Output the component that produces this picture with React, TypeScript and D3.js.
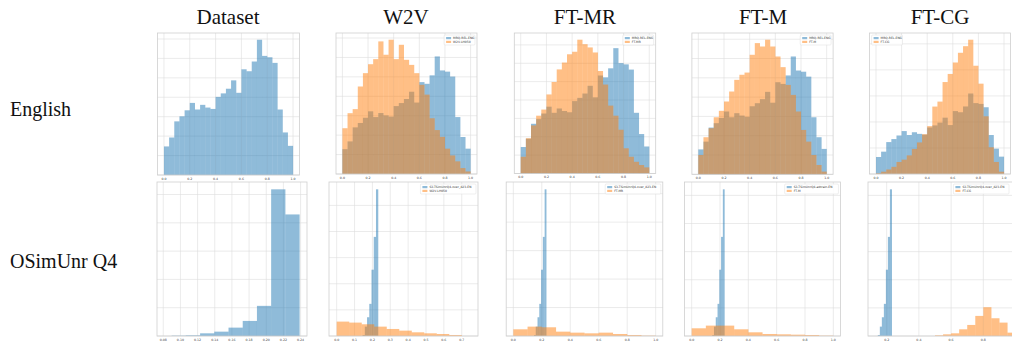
import React from "react";
import * as d3 from "d3";

const BLUE = "#1f77b4";
const ORANGE = "#ff7f0e";

const columnTitles = ["Dataset", "W2V", "FT-MR", "FT-M", "FT-CG"];
const rowTitles = ["English", "OSimUnr Q4"];

// English row: 25 bins on [0, 1]
const ENG_START = 0;
const ENG_WIDTH = 0.04;
const engReference = [147, 193, 276, 302, 333, 371, 337, 361, 347, 340, 402, 420, 444, 487, 423, 544, 534, 584, 696, 613, 606, 577, 337, 219, 150];
const engW2V = [271, 360, 384, 518, 597, 650, 680, 785, 706, 795, 680, 765, 676, 646, 597, 528, 470, 330, 260, 220, 150, 110, 75, 35, 15];
const engFTMR = [93, 196, 267, 321, 355, 439, 508, 578, 616, 662, 676, 743, 718, 700, 672, 569, 494, 377, 321, 243, 140, 93, 65, 47, 34];
const engFTM = [114, 219, 272, 337, 375, 430, 489, 558, 588, 601, 706, 775, 755, 795, 755, 696, 633, 528, 469, 371, 262, 193, 114, 55, 16];
const engFTCG = [6, 20, 39, 62, 104, 124, 161, 217, 273, 344, 414, 583, 626, 795, 865, 964, 1048, 1105, 1161, 936, 781, 499, 231, 104, 20];

// OSimUnr Q4 row
const Q4_START = 0.0898;
const Q4_WIDTH = 0.01656;
const q4Reference = [1, 2, 8, 13, 25, 45, 90, 438, 363];
const Q4_FINE_START = 0.145;
const Q4_FINE_WIDTH = 0.0125;
const q4Fine = [3, 28, 56, 96, 198, 296, 438];
const PRED_START = 0;
const PRED_WIDTH = 0.07;
const q4W2V = [43, 40, 35, 28, 21, 16, 11, 8, 6, 3];
const PRED10_WIDTH = 0.1;
const q4FTMR = [20, 28, 26, 13, 10, 8, 10, 6, 3, 1];
const q4FTM = [23, 31, 31, 20, 11, 6, 5, 4, 3, 1];
const CG_START = 0.5;
const CG_WIDTH = 0.05;
const q4FTCG = [2, 5, 8, 20, 33, 60, 86, 53, 40, 10];

const engTicks = [0, 0.2, 0.4, 0.6, 0.8, 1.0];
const q4DatasetTicks = [0.08, 0.1, 0.12, 0.14, 0.16, 0.18, 0.2, 0.22, 0.24];
const q4W2VTicks = [0, 0.1, 0.2, 0.3, 0.4, 0.5, 0.6, 0.7];

const blueEng = "MRQ-REL-ENG";
const blueQ4 = "S3-TSimUnrQ4-over_823-EN";
const blueQ4M = "S3-TSimUnrQ4-adtrain-EN";

const PAGE_W = 1012;

type Series = { start: number; width: number; counts: number[]; color: string };
type Panel = {
  frame: [number, number, number, number];
  xd: [number, number];
  ticks: number[];
  fmt: string;
  yStep: number;
  series: Series[];
  legend?: { labels: string[]; side: "left" | "right" };
};

const s = (start: number, width: number, counts: number[], color: string): Series => ({ start, width, counts, color });

const panels: Panel[] = [
  { frame: [157.5, 33, 299.5, 175], xd: [-0.05, 1.05], ticks: engTicks, fmt: ".1f", yStep: 100,
    series: [s(ENG_START, ENG_WIDTH, engReference, BLUE)] },
  { frame: [336, 33, 477, 174], xd: [-0.05, 1.05], ticks: engTicks, fmt: ".1f", yStep: 115,
    series: [s(ENG_START, ENG_WIDTH, engReference, BLUE), s(ENG_START, ENG_WIDTH, engW2V, ORANGE)],
    legend: { labels: [blueEng, "W2V-LH050"], side: "right" } },
  { frame: [514.3, 33, 655.7, 173.5], xd: [-0.05, 1.05], ticks: engTicks, fmt: ".1f", yStep: 102,
    series: [s(ENG_START, ENG_WIDTH, engReference, BLUE), s(ENG_START, ENG_WIDTH, engFTMR, ORANGE)],
    legend: { labels: [blueEng, "FT-MR"], side: "right" } },
  { frame: [691.9, 33, 833.1, 174.3], xd: [-0.05, 1.05], ticks: engTicks, fmt: ".1f", yStep: 114,
    series: [s(ENG_START, ENG_WIDTH, engReference, BLUE), s(ENG_START, ENG_WIDTH, engFTM, ORANGE)],
    legend: { labels: [blueEng, "FT-M"], side: "right" } },
  { frame: [869.6, 33, 1010.4, 174], xd: [-0.05, 1.05], ticks: engTicks, fmt: ".1f", yStep: 225,
    series: [s(ENG_START, ENG_WIDTH, engReference, BLUE), s(ENG_START, ENG_WIDTH, engFTCG, ORANGE)],
    legend: { labels: [blueEng, "FT-CG"], side: "left" } },

  { frame: [157, 182, 307, 336], xd: [0.0727, 0.2475], ticks: q4DatasetTicks, fmt: ".2f", yStep: 84.5,
    series: [s(Q4_START, Q4_WIDTH, q4Reference, BLUE)] },
  { frame: [329, 182, 478, 336], xd: [-0.043, 0.791], ticks: q4W2VTicks, fmt: ".1f", yStep: 78,
    series: [s(Q4_FINE_START, Q4_FINE_WIDTH, q4Fine, BLUE), s(PRED_START, PRED_WIDTH, q4W2V, ORANGE)],
    legend: { labels: [blueQ4, "W2V-LH050"], side: "right" } },
  { frame: [506.2, 182, 662.8, 336], xd: [-0.05, 1.05], ticks: engTicks, fmt: ".1f", yStep: 85,
    series: [s(Q4_FINE_START, Q4_FINE_WIDTH, q4Fine, BLUE), s(PRED_START, PRED10_WIDTH, q4FTMR, ORANGE)],
    legend: { labels: [blueQ4, "FT-MR"], side: "right" } },
  { frame: [684.6, 182, 840.4, 336], xd: [-0.05, 1.05], ticks: engTicks, fmt: ".1f", yStep: 84,
    series: [s(Q4_FINE_START, Q4_FINE_WIDTH, q4Fine, BLUE), s(PRED_START, PRED10_WIDTH, q4FTM, ORANGE)],
    legend: { labels: [blueQ4M, "FT-M"], side: "right" } },
  { frame: [868, 182, 1022, 336], xd: [0.084, 1.04], ticks: engTicks, fmt: ".1f", yStep: 84,
    series: [s(Q4_FINE_START, Q4_FINE_WIDTH, q4Fine, BLUE), s(CG_START, CG_WIDTH, q4FTCG, ORANGE)],
    legend: { labels: [blueQ4, "FT-CG"], side: "right" } },
];

const Hist = ({ p }: { p: Panel }) => {
  const [l, t, r, b] = p.frame;
  const x = d3.scaleLinear().domain(p.xd).range([l, r]);
  const maxC = d3.max(p.series, (d) => d3.max(d.counts)) as number;
  const y = d3.scaleLinear().domain([0, maxC * 1.05]).range([b, t]);
  const yTicks = d3.range(0, maxC * 1.05, p.yStep);
  const fmt = d3.format(p.fmt);
  // only ticks that fall inside the frame and on the page
  const ticks = p.ticks.filter((v) => x(v) >= l && x(v) <= r && x(v) <= PAGE_W - 5);

  const legendW = p.legend ? Math.max(...p.legend.labels.map((d) => d.length)) * 1.9 + 10 : 0;
  const lx = p.legend ? (p.legend.side === "right" ? Math.min(r, PAGE_W - 1) - legendW - 2 : l + 2) : 0;

  return (
    <g>
      {ticks.map((v) => (
        <line key={"gx" + v} x1={x(v)} x2={x(v)} y1={t} y2={b} stroke="#dedede" strokeWidth={0.6} />
      ))}
      {yTicks.map((v) => (
        <line key={"gy" + v} x1={l} x2={r} y1={y(v)} y2={y(v)} stroke="#dedede" strokeWidth={0.6} />
      ))}
      {p.series.map((ser, si) => (
        <g key={si} fill={ser.color} fillOpacity={0.5}>
          {ser.counts.map((c, i) => {
            const x0 = x(ser.start + i * ser.width);
            const x1 = x(ser.start + (i + 1) * ser.width);
            return <rect key={i} x={x0} width={x1 - x0 + 0.05} y={y(c)} height={b - y(c)} />;
          })}
        </g>
      ))}
      <rect x={l} y={t} width={r - l} height={b - t} fill="none" stroke="#cfcfcf" strokeWidth={0.8} />
      {ticks.map((v) => (
        <text key={"tl" + v} x={x(v)} y={b + 4.5} fontSize={3.2} textAnchor="middle" fill="#444" fontFamily="DejaVu Sans">
          {fmt(v)}
        </text>
      ))}
      {p.legend && (
        <g transform={`translate(${lx},${t + 2})`}>
          <rect width={legendW} height={10} rx={1} fill="#fff" fillOpacity={0.85} stroke="#ddd" strokeWidth={0.5} />
          {p.legend.labels.map((lab, i) => (
            <g key={lab} transform={`translate(2,${2 + i * 3.8})`}>
              <rect width={5} height={2.2} fill={i === 0 ? BLUE : ORANGE} fillOpacity={0.5} />
              <text x={7} y={2.1} fontSize={3} fill="#333" fontFamily="DejaVu Sans">
                {lab}
              </text>
            </g>
          ))}
        </g>
      )}
    </g>
  );
};

const colCenters = [228, 406, 585, 763, 940];
const rowBaselines = [116, 268];

export default function App() {
  return (
    <svg width={PAGE_W} height={345} style={{ position: "absolute", left: 0, top: 0, background: "#fff" }}>
      <rect width={PAGE_W} height={345} fill="#fff" />
      {panels.map((p, i) => (
        <Hist key={i} p={p} />
      ))}
      {columnTitles.map((c, i) => (
        <text key={c} x={colCenters[i]} y={24} fontSize={21} textAnchor="middle" fontFamily="Liberation Serif" fill="#111">
          {c}
        </text>
      ))}
      {rowTitles.map((rt, i) => (
        <text key={rt} x={10} y={rowBaselines[i]} fontSize={20} fontFamily="Liberation Serif" fill="#111">
          {rt}
        </text>
      ))}
    </svg>
  );
}
